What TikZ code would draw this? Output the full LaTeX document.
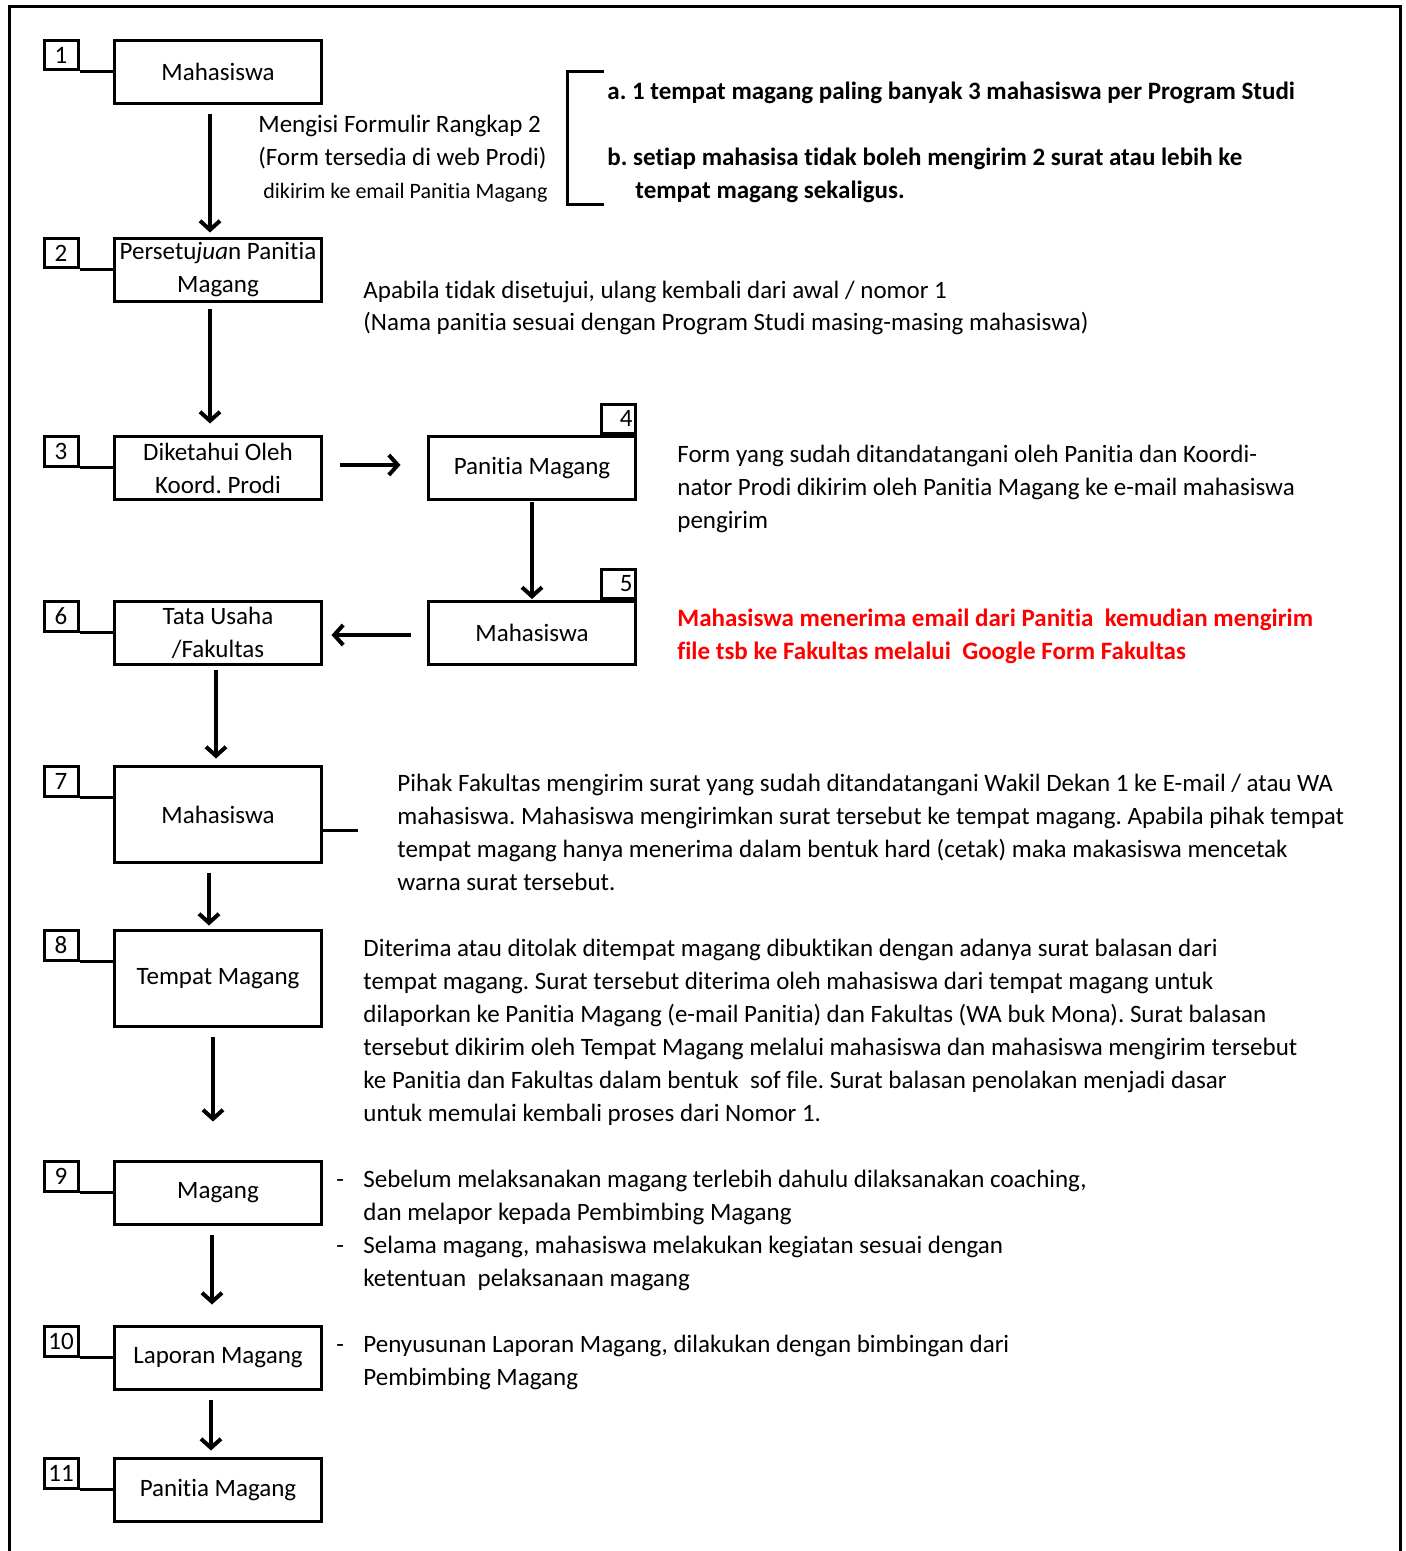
\documentclass[tikz,border=0pt]{standalone}
\usepackage{fontspec}
\setmainfont[Ligatures=NoCommon]{Carlito}
\usepackage{tikz}
\usetikzlibrary{arrows.meta}
\frenchspacing

\begin{document}
\begin{tikzpicture}[x=.5pt,y=-.5pt,>={Straight Barb[length=4.5pt,width=10pt]},
	box/.style={draw,line width=1.5pt,minimum width=103.5pt,minimum height=31.5pt,align=center,inner sep=0pt,font=\fontsize{12.5}{16.5}\selectfont},
	tallbox/.style={box,minimum height=48pt},
	num/.style={draw,line width=1.5pt,minimum width=17pt,minimum height=14.75pt,inner sep=0pt,font=\fontsize{12.5}{14}\selectfont},
	note/.style={anchor=base west,align=left,inner sep=0pt,font=\fontsize{12.5}{16.5}\selectfont},
	arr/.style={->,line width=2pt},
	link/.style={line width=1.5pt}]
	\useasboundingbox (0,0) rectangle (1405,1551);
	\draw[line width=1.5pt] (9,1560)--(9,7)--(1400,7)--(1400,1560);
	\node[box] (b1) at (218,72) {Mahasiswa};
	\node[box] (b2) at (218,270) {Persetu\textit{jua}n Panitia\\Magang};
	\node[box] (b3) at (218,468) {Diketahui Oleh\\Koord. Prodi};
	\node[box] (b4) at (532,468) {Panitia Magang};
	\node[box] (b5) at (532,633) {Mahasiswa};
	\node[box] (b6) at (218,633) {Tata Usaha\\/Fakultas};
	\node[tallbox] (b7) at (218,814.5) {Mahasiswa};
	\node[tallbox] (b8) at (218,978.5) {Tempat Magang};
	\node[box] (b9) at (218,1193) {Magang};
	\node[box] (b10) at (218,1358) {Laporan Magang};
	\node[box] (b11) at (218,1490) {Panitia Magang};
	\foreach \i in {1,2,3,6,7,8,9,10,11}{
		\node[num,anchor=north] (n\i) at (61,0 |- b\i.north) {\i};
		\draw[link] (n\i.south east) -- (n\i.south east -| b\i.west);
	}
	\node[num,anchor=south east] (n4) at (b4.north east) {\makebox[14pt][r]{4}};
	\node[num,anchor=south east] (n5) at (b5.north east) {\makebox[14pt][r]{5}};
	\coordinate (s7) at (358,830);
	\draw[link] (b7.east |- s7) -- (s7);
	\draw[arr,shorten <=4.75pt,shorten >=2.25pt] ([xshift=-4pt]b1.south) -- ([xshift=-4pt]b2.north);
	\draw[arr,shorten <=3.25pt,shorten >=5.75pt] ([xshift=-4pt]b2.south) -- ([xshift=-4pt]b3.north);
	\draw[arr,shorten <=8.25pt,shorten >=13.25pt] ([yshift=1.5pt]b3.east) -- ([yshift=1.5pt]b4.west);
	\draw[arr,shorten <=.5pt,shorten >=.5pt] (b4.south) -- (b5.north);
	\draw[arr,shorten <=8.25pt,shorten >=4.25pt] ([yshift=-1pt]b5.west) -- ([yshift=-1pt]b6.east);
	\draw[arr,shorten <=1.75pt,shorten >=3.25pt] ([xshift=-1pt]b6.south) -- ([xshift=-1pt]b7.north);
	\draw[arr,shorten <=4.25pt,shorten >=1.75pt] ([xshift=-4.5pt]b7.south) -- ([xshift=-4.5pt]b8.north);
	\draw[arr,shorten <=4.25pt,shorten >=19.25pt] ([xshift=-2.5pt]b8.south) -- ([xshift=-2.5pt]b9.north);
	\draw[arr,shorten <=4.25pt,shorten >=10.25pt] ([xshift=-3pt]b9.south) -- ([xshift=-3pt]b10.north);
	\draw[arr,shorten <=4.25pt,shorten >=3.25pt] ([xshift=-3.5pt]b10.south) -- ([xshift=-3.5pt]b11.north);
	\node[note] (t1) at (258,199) {Mengisi Formulir Rangkap 2\\(Form tersedia di web Prodi)\\
		\hspace*{2.5pt}{\fontsize{11}{16.5}\selectfont dikirim ke email Panitia Magang}};
	\draw[line width=1.5pt] (604,72)--(567,72)--(567,205)--(604,205);
	\node[note,font=\fontsize{12.5}{16.5}\selectfont\bfseries] (t1b) at (607,199)
		{a. 1 tempat magang paling banyak 3 mahasiswa per Program Studi\\[16.5pt]
		b. setiap mahasisa tidak boleh mengirim 2 surat atau lebih ke\\
		\hspace*{14pt}tempat magang sekaligus.};
	\node[note] (t2) at (363,331) {Apabila tidak disetujui, ulang kembali dari awal / nomor 1\\
		(Nama panitia sesuai dengan Program Studi masing-masing mahasiswa)};
	\node[note] (t4) at (677,528) {Form yang sudah ditandatangani oleh Panitia dan Koordi-\\
		nator Prodi dikirim oleh Panitia Magang ke e-mail mahasiswa\\pengirim};
	\node[note,text=red,font=\fontsize{12.5}{16.5}\selectfont\bfseries] (t5) at (677,659)
		{Mahasiswa menerima email dari Panitia\ \ kemudian mengirim\\
		file tsb ke Fakultas melalui\ \ Google Form Fakultas};
	\node[note] (t7) at (397,890) {Pihak Fakultas mengirim surat yang sudah ditandatangani Wakil Dekan 1 ke E-mail / atau WA\\
		mahasiswa. Mahasiswa mengirimkan surat tersebut ke tempat magang. Apabila pihak tempat\\
		tempat magang hanya menerima dalam bentuk hard (cetak) maka makasiswa mencetak\\
		warna surat tersebut.};
	\node[note] (t8) at (363,1121) {Diterima atau ditolak ditempat magang dibuktikan dengan adanya surat balasan dari\\
		tempat magang. Surat tersebut diterima oleh mahasiswa dari tempat magang untuk\\
		dilaporkan ke Panitia Magang (e-mail Panitia) dan Fakultas (WA buk Mona). Surat balasan\\
		tersebut dikirim oleh Tempat Magang melalui mahasiswa dan mahasiswa mengirim tersebut\\
		ke Panitia dan Fakultas dalam bentuk\ \ sof file. Surat balasan penolakan menjadi dasar\\
		untuk memulai kembali proses dari Nomor 1.};
	\node[note] (t9) at (336,1286) {\makebox[13.5pt][l]{-}Sebelum melaksanakan magang terlebih dahulu dilaksanakan coaching,\\
		\hspace*{13.5pt}dan melapor kepada Pembimbing Magang\\
		\makebox[13.5pt][l]{-}Selama magang, mahasiswa melakukan kegiatan sesuai dengan\\
		\hspace*{13.5pt}ketentuan\ \ pelaksanaan magang};
	\node[note] (t10) at (336,1385) {\makebox[13.5pt][l]{-}Penyusunan Laporan Magang, dilakukan dengan bimbingan dari\\
		\hspace*{13.5pt}Pembimbing Magang};
\end{tikzpicture}
\end{document}
